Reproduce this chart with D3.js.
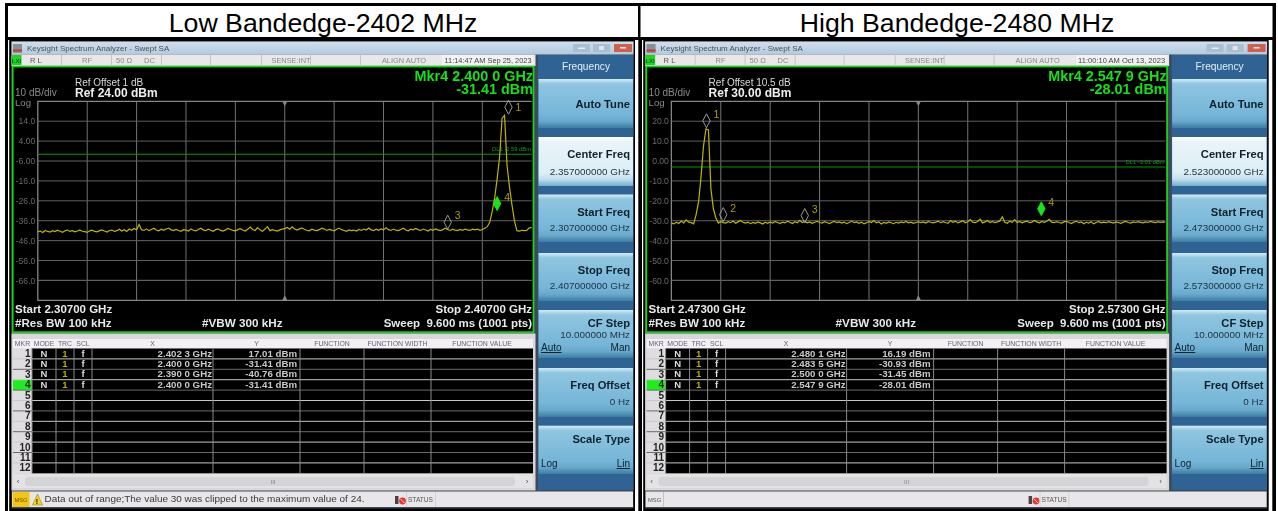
<!DOCTYPE html>
<html>
<head>
<meta charset="utf-8">
<title>Bandedge</title>
<script src="https://cdn.jsdelivr.net/npm/d3@7"></script>
<style>
	html, body { margin: 0; padding: 0; background: #fff; overflow: hidden; }
	svg { display: block; }
	text { font-family: 'Liberation Sans', Arial, sans-serif; }
</style>
</head>
<body>
<script>
// Trace waarden, stap 0.5 MHz (201 punten per sweep)
const lowTrace = [
	-41.6, -41.2, -41.9, -40.9, -41.4, -41.7, -41.0, -41.5, -40.8, -41.3, -41.8, -41.1, -40.7, -41.4, -41.0, -41.6, -41.2, -40.6, -41.3, -41.5,
	-41.9, -41.1, -40.8, -41.4, -41.6, -41.0, -40.6, -41.2, -41.7, -40.9, -40.7, -41.3, -41.0, -40.3, -41.2, -40.5, -41.4, -40.2, -40.8, -39.9,
	-40.6, -37.9, -40.5, -40.9, -40.1, -41.0, -40.4, -39.8, -40.7, -41.1, -40.3, -40.8, -40.2, -39.7, -40.6, -41.0, -40.4, -40.9, -41.3, -40.5,
	-40.7, -41.2, -40.1, -40.8, -41.1, -40.4, -39.8, -40.6, -41.0, -40.3, -40.8, -41.3, -40.5, -40.1, -40.9, -41.2, -40.6, -39.9, -40.4, -40.9,
	-41.1, -40.5, -40.0, -40.7, -41.2, -40.3, -39.2, -40.4, -40.9, -39.5, -40.6, -41.3, -40.2, -39.0, -41.0, -40.5, -40.9, -41.2, -40.6, -40.2,
	-40.0, -39.4, -40.3, -39.1, -40.2, -40.7, -40.1, -39.6, -40.4, -40.8, -41.1, -40.3, -40.7, -41.0, -40.5, -39.8, -40.2, -40.9, -40.4, -40.7,
	-41.1, -40.3, -39.7, -40.5, -40.9, -41.3, -40.6, -41.0, -40.7, -41.2, -40.4, -40.9, -40.2, -40.7, -39.7, -40.6, -41.0, -40.3, -40.8, -40.1,
	-40.6, -39.6, -40.5, -40.9, -40.2, -40.76, -41.0, -40.4, -39.8, -40.7, -41.1, -40.3, -40.6, -39.9, -40.5, -40.9, -40.2, -40.7, -41.2, -40.4,
	-40.8, -40.1, -40.6, -41.0, -40.5, -39.8, -40.4, -40.9, -40.3, -40.7, -41.0, -40.4, -40.8, -40.2, -40.6, -40.9, -40.3, -40.6, -40.2, -40.8,
	-40.4, -39.8, -39.0, -36.8, -31.41, -24.5, -15.0, -4.0, 15.5, 17.01, -8.0, -19.0, -28.0, -36.0, -41.0, -41.2, -40.8, -41.0, -40.9, -39.6, -39.5
]
const highTrace = [
	-31.2, -31.6, -30.8, -31.4, -30.2, -31.1, -29.6, -30.7, -31.0, -31.6, -27.0, -20.5, -8.0, 7.5, 16.19, 15.6, -14.0, -24.0, -28.5, -31.2,
	-30.4, -30.93, -31.2, -30.5, -31.0, -30.2, -31.3, -30.6, -29.9, -30.8, -31.2, -30.7, -31.5, -30.9, -31.3, -30.6, -31.1, -31.7, -30.8, -31.3,
	-30.6, -31.2, -30.4, -30.9, -31.4, -30.7, -31.1, -30.3, -30.8, -31.45, -30.5, -31.0, -29.8, -30.9, -30.4, -31.1, -30.6, -31.3, -30.8, -30.3,
	-30.9, -31.2, -30.5, -30.9, -31.4, -30.8, -30.4, -31.0, -30.6, -31.2, -30.7, -31.5, -30.9, -30.2, -31.0, -30.6, -31.3, -30.8, -31.6, -31.0,
	-30.4, -30.9, -29.9, -31.1, -30.5, -31.7, -30.9, -31.3, -30.6, -31.0, -31.5, -30.8, -31.2, -30.6, -31.0, -30.4, -31.1, -30.7, -31.3, -30.9,
	-30.5, -31.0, -30.6, -31.2, -30.4, -30.8, -31.1, -30.7, -30.2, -31.0, -30.5, -30.9, -31.3, -29.9, -30.8, -30.3, -31.1, -30.6, -30.0, -31.0,
	-30.5, -29.4, -30.7, -31.0, -30.4, -29.2, -31.1, -30.6, -30.0, -30.9, -30.4, -31.0, -30.6, -30.1, -28.01, -30.8, -31.3, -30.2, -30.8, -29.5,
	-30.9, -30.4, -31.1, -30.6, -30.2, -31.0, -30.7, -29.9, -30.6, -31.1, -30.4, -30.8, -30.3, -29.3, -30.7, -31.0, -30.5, -30.9, -31.2, -30.6,
	-30.3, -30.9, -31.4, -30.7, -30.3, -31.0, -30.6, -31.5, -30.8, -31.2, -30.5, -31.6, -30.9, -30.4, -31.1, -30.7, -31.0, -30.5, -30.8, -31.2,
	-30.6, -30.9, -31.3, -30.7, -30.4, -30.9, -31.2, -30.6, -30.9, -30.5, -30.8, -31.1, -30.6, -30.9, -30.4, -30.7, -31.0, -30.5, -30.8, -30.6, -30.7
]

const lowTicks = [14, 4, -6, -16, -26, -36, -46, -56, -66]
const lowTickLabels = ['14.0', '4.00', '-6.00', '-16.0', '-26.0', '-36.0', '-46.0', '-56.0', '-66.0']
const highTicks = [20, 10, 0, -10, -20, -30, -40, -50, -60]
const highTickLabels = ['20.0', '10.0', '0.00', '-10.0', '-20.0', '-30.0', '-40.0', '-50.0', '-60.0']

// Markers: nummer, frequentie in MHz, waarde in dBm
const lowMarkerNr = [1, 2, 3, 4]
const lowMarkerFreq = [2402.3, 2400.0, 2390.0, 2400.0]
const lowMarkerVal = [17.01, -31.41, -40.76, -31.41]
const highMarkerNr = [1, 2, 3, 4]
const highMarkerFreq = [2480.1, 2483.5, 2500.0, 2547.9]
const highMarkerVal = [16.19, -30.93, -31.45, -28.01]

const lowMarkerX = ['2.402 3 GHz', '2.400 0 GHz', '2.390 0 GHz', '2.400 0 GHz']
const lowMarkerY = ['17.01 dBm', '-31.41 dBm', '-40.76 dBm', '-31.41 dBm']
const highMarkerX = ['2.480 1 GHz', '2.483 5 GHz', '2.500 0 GHz', '2.547 9 GHz']
const highMarkerY = ['16.19 dBm', '-30.93 dBm', '-31.45 dBm', '-28.01 dBm']

const tableHeaders = ['MKR', 'MODE', 'TRC', 'SCL', 'X', 'Y', 'FUNCTION', 'FUNCTION WIDTH', 'FUNCTION VALUE']
const softKeyLabels = ['Auto Tune', 'Center Freq', 'Start Freq', 'Stop Freq', 'CF Step', 'Freq Offset', 'Scale Type']

const panels = [
	{
		dx: 0, title: 'Low Bandedge-2402 MHz', titleX: 323, start: 2307, stop: 2407, ref: 24,
		trace: lowTrace, ticks: lowTicks, tickLabels: lowTickLabels,
		nr: lowMarkerNr, freq: lowMarkerFreq, val: lowMarkerVal, mx: lowMarkerX, my: lowMarkerY,
		dl: -2.59, dlText: 'DL1 -2.59 dBm', offset: 'Ref Offset 1 dB', refText: 'Ref 24.00 dBm',
		mkr: 'Mkr4 2.400 0 GHz', mkrVal: '-31.41 dBm', time: '11:14:47 AM Sep 25, 2023',
		startText: 'Start 2.30700 GHz', stopText: 'Stop 2.40700 GHz',
		center: '2.357000000 GHz', startKey: '2.307000000 GHz', stopKey: '2.407000000 GHz',
		msg: 'Data out of range;The value 30 was clipped to the maximum value of 24.'
	},
	{
		dx: 633.6, title: 'High Bandedge-2480 MHz', titleX: 957, start: 2473, stop: 2573, ref: 30,
		trace: highTrace, ticks: highTicks, tickLabels: highTickLabels,
		nr: highMarkerNr, freq: highMarkerFreq, val: highMarkerVal, mx: highMarkerX, my: highMarkerY,
		dl: -3.01, dlText: 'DL1 -3.01 dBm', offset: 'Ref Offset 10.5 dB', refText: 'Ref 30.00 dBm',
		mkr: 'Mkr4 2.547 9 GHz', mkrVal: '-28.01 dBm', time: '11:00:10 AM Oct 13, 2023',
		startText: 'Start 2.47300 GHz', stopText: 'Stop 2.57300 GHz',
		center: '2.523000000 GHz', startKey: '2.473000000 GHz', stopKey: '2.573000000 GHz',
		msg: ''
	}
]

const svg = d3.select('body').append('svg').attr('width', 1278).attr('height', 511)
const defs = svg.append('defs')

function gradient(id, stops) {
	const g = defs.append('linearGradient').attr('id', id).attr('x1', 0).attr('x2', 0).attr('y1', 0).attr('y2', 1)
	stops.forEach(s => g.append('stop').attr('offset', s[0]).attr('stop-color', s[1]))
}
gradient('keyNormal', [[0, '#d5ecf5'], [0.1, '#8fc6e0'], [0.72, '#75b5d8'], [0.86, '#6aa9cc'], [1, '#3a7ca3']])
gradient('keyActive', [[0, '#ffffff'], [0.1, '#e9f4f9'], [0.72, '#dceef6'], [0.86, '#c4e0ee'], [1, '#6eaecf']])
gradient('titleBar', [[0, '#cfe0ee'], [1, '#b2cade']])
defs.append('filter').attr('id', 'soft').attr('x', 0).attr('y', 0).attr('width', 1).attr('height', 1)
	.append('feGaussianBlur').attr('stdDeviation', 0.45)

// Zwarte tabelranden en witte titelcellen
svg.append('rect').attr('x', 5).attr('y', 3).attr('width', 1271).attr('height', 508).attr('fill', '#000')
svg.append('rect').attr('x', 8).attr('y', 6).attr('width', 630).attr('height', 31).attr('fill', '#fff')
svg.append('rect').attr('x', 640.5).attr('y', 6).attr('width', 632).attr('height', 31).attr('fill', '#fff')
svg.append('rect').attr('x', 8).attr('y', 40).attr('width', 1.2).attr('height', 471).attr('fill', '#fff')
svg.append('rect').attr('x', 635).attr('y', 40).attr('width', 3.3).attr('height', 471).attr('fill', '#fff')
svg.append('rect').attr('x', 642).attr('y', 40).attr('width', 1.2).attr('height', 471).attr('fill', '#fff')
svg.append('rect').attr('x', 1268.7).attr('y', 40).attr('width', 3.6).attr('height', 471).attr('fill', '#fff')

function label(g, x, y, text, size, color, weight, anchor) {
	return g.append('text').attr('x', x).attr('y', y).text(text)
		.attr('font-size', size).attr('fill', color)
		.attr('font-weight', weight || 'normal').attr('text-anchor', anchor || 'start')
}

function rect(g, x, y, w, h, fill) {
	return g.append('rect').attr('x', x).attr('y', y).attr('width', w).attr('height', h).attr('fill', fill)
}

panels.forEach(drawPanel)

function drawPanel(p) {
	label(svg, p.titleX, 31.5, p.title, 26.7, '#000', 'normal', 'middle')

	const g = svg.append('g').attr('transform', `translate(${p.dx},0)`).attr('filter', 'url(#soft)')

	// Venster
	rect(g, 11.5, 41.5, 622, 467, '#3d4a58')
	rect(g, 11.5, 41.5, 622, 13, 'url(#titleBar)')
	rect(g, 13, 44, 9, 9, '#8a8f96')
	rect(g, 13, 49.5, 9, 2, '#c8343c')
	label(g, 27, 50.5, 'Keysight Spectrum Analyzer - Swept SA', 8, '#4a4f55')
	rect(g, 573, 44, 17, 8, '#a9c0d3')
	rect(g, 593, 44, 17, 8, '#a9c0d3')
	rect(g, 614, 44, 18, 8, '#d0604e')
	rect(g, 578, 47.5, 7, 1.5, '#eee')
	rect(g, 620, 47, 6, 1.5, '#eee')
	rect(g, 599, 46, 5, 4, '#e4e4e4')

	// Statusregel
	rect(g, 11.5, 54.5, 524, 11.5, '#e9e7ea')
	rect(g, 11.5, 55, 10, 10, '#1fd51f')
	label(g, 16.5, 63, 'LXI', 6, '#063', 'bold', 'middle')
	;[61, 111, 161, 210, 261, 310, 360, 442].forEach(x => rect(g, x, 55, 1, 10, '#c6c4c8'))
	rect(g, 442, 55, 91, 10, '#f3f1f4')
	label(g, 30, 63, 'R L', 7.6, '#555')
	label(g, 87, 63, 'RF', 7.6, '#888', 'normal', 'middle')
	label(g, 116, 63, '50 Ω', 7.6, '#888')
	label(g, 144, 63, 'DC', 7.6, '#888')
	label(g, 291, 63, 'SENSE:INT', 7.4, '#888', 'normal', 'middle')
	label(g, 404, 63, 'ALIGN AUTO', 7.4, '#888', 'normal', 'middle')
	label(g, 488, 63, p.time, 7.6, '#444', 'normal', 'middle').attr('textLength', 87).attr('lengthAdjust', 'spacingAndGlyphs')

	drawPlot(g, p)
	drawTable(g, p)
	drawSoftKeys(g, p)
	drawBottom(g, p)
}

function drawPlot(g, p) {
	rect(g, 12.7, 66.5, 520.8, 265.7, '#000').attr('stroke', '#19d419').attr('stroke-width', 1.8)

	const x = d3.scaleLinear().domain([p.start, p.stop]).range([37.8, 531.7])
	const y = d3.scaleLinear().domain([p.ref, p.ref - 100]).range([101.3, 300.3])

	// Grid
	const grid = d3.range(1, 10).map(i => p.start + i * 10)
	g.append('g').selectAll('line').data(grid).join('line')
		.attr('x1', d => x(d)).attr('x2', d => x(d)).attr('y1', y.range()[0]).attr('y2', y.range()[1])
		.attr('stroke', '#747474').attr('stroke-width', 1)
	g.append('g').selectAll('line').data(p.ticks.concat([p.ref - 90])).join('line')
		.attr('x1', x.range()[0]).attr('x2', x.range()[1]).attr('y1', d => y(d)).attr('y2', d => y(d))
		.attr('stroke', '#606060').attr('stroke-width', 1)
	g.append('path')
		.attr('d', `M${x.range()[1]},${y.range()[0]}H${x.range()[0]}V${y.range()[1]}H${x.range()[1]}`)
		.attr('fill', 'none').attr('stroke', '#858585').attr('stroke-width', 1.3)

	// Y as met de labels van het instrument
	const yaxis = d3.axisLeft(y).tickValues(p.ticks).tickSize(0).tickPadding(2.5)
		.tickFormat((d, i) => p.tickLabels[i])
	const g_yaxis = g.append('g').attr('transform', `translate(${x.range()[0]},0)`).call(yaxis)
	g_yaxis.select('.domain').remove()
	g_yaxis.selectAll('text').attr('fill', '#6a6a6a').attr('font-size', 8.6)

	// Driehoekjes op de middenfrequentie
	const mid = x((p.start + p.stop) / 2)
	g.append('path').attr('d', `M${mid - 2.5},${y.range()[0]}h5l-2.5,5z`).attr('fill', '#8a8a8a')
	g.append('path').attr('d', `M${mid - 2.5},${y.range()[1]}h5l-2.5,-5z`).attr('fill', '#8a8a8a')

	// Display line
	g.append('line').attr('x1', x.range()[0]).attr('x2', x.range()[1]).attr('y1', y(p.dl)).attr('y2', y(p.dl))
		.attr('stroke', '#0a9a0a').attr('stroke-width', 1)
	label(g, 531, y(p.dl) - 3, p.dlText, 5.8, '#119911', 'normal', 'end')

	// Trace
	const line = d3.line().x((d, i) => x(p.start + i * 0.5)).y(d => y(d))
	g.append('path').datum(p.trace).attr('d', line)
		.attr('fill', 'none').attr('stroke', '#bcb600').attr('stroke-width', 1.2)

	// Markers, nummer 4 is de actieve. Een marker op dezelfde plek valt eronder weg
	const active = p.nr.length - 1
	p.nr.forEach((nr, i) => {
		if (i !== active && p.freq[i] === p.freq[active]) return
		const mx = x(p.freq[i])
		const my = y(p.val[i]) - 8
		g.append('path').attr('d', `M${mx},${my - 7}L${mx + 3.7},${my}L${mx},${my + 7}L${mx - 3.7},${my}Z`)
			.attr('fill', i === active ? '#19e619' : 'none')
			.attr('stroke', i === active ? '#19e619' : '#a8a8a8').attr('stroke-width', 0.9)
		label(g, mx + 7, Math.max(my - 3, 111), nr, 10.5, '#a89f00')
	})

	// Teksten in het scherm
	label(g, 75, 85.5, p.offset, 10, '#d8d8d8')
	label(g, 75, 97, p.refText, 12, '#eee', 'bold')
	label(g, 15, 95.5, '10 dB/div', 10, '#8a8a8a')
	label(g, 15, 106, 'Log', 9.6, '#8a8a8a')
	label(g, 533, 80.5, p.mkr, 14.4, '#14e014', 'bold', 'end')
	label(g, 533, 94, p.mkrVal, 14.4, '#14e014', 'bold', 'end')
	label(g, 15, 313, p.startText, 11.5, '#e8e8e8', 'bold')
	label(g, 15, 326.5, '#Res BW 100 kHz', 11.6, '#e8e8e8', 'bold')
	label(g, 202, 326.5, '#VBW 300 kHz', 11.7, '#e8e8e8', 'bold')
	label(g, 532, 313, p.stopText, 11.5, '#e8e8e8', 'bold', 'end')
	label(g, 532, 326.5, 'Sweep  9.600 ms (1001 pts)', 11.5, '#e8e8e8', 'bold', 'end').attr('xml:space', 'preserve')
}

function drawTable(g, p) {
	const cols = [13, 32, 56, 74, 92, 213, 300, 364, 431, 533]
	const rowH = 10.4
	const top = 348.5
	rect(g, 11.5, 333.5, 524, 157, '#d9d7d9')
	rect(g, 13, 339, 520, 9.5, '#f2f0f2')
	tableHeaders.forEach((h, i) => {
		label(g, (cols[i] + cols[i + 1]) / 2, 346.3, h, 6.9, '#6a5f75', 'normal', 'middle')
	})
	rect(g, 32, top, 501, rowH * 12, '#000')
	rect(g, 13, top, 19, rowH * 12, '#dfdddf')
	rect(g, 13, top + rowH * 3, 19, rowH, '#1ef01e')
	// rijen en kolommen
	d3.range(1, 12).forEach(i => rect(g, 13, top + rowH * i - 0.5, 520, 1, i % 2 ? '#c9c9c9' : '#6a6a6a'))
	cols.slice(1, 9).forEach(x => rect(g, x - 0.5, top, 1, rowH * 12, '#8a8a8a'))
	d3.range(12).forEach(i => {
		const base = top + rowH * i + 8.5
		label(g, 30.5, base, i + 1, 10, '#222', 'bold', 'end')
		if (i < 4) {
			label(g, 44, base - 0.5, 'N', 9.5, '#ddd', 'bold', 'middle')
			label(g, 65, base - 0.5, '1', 9.5, '#b5ad00', 'bold', 'middle')
			label(g, 83, base - 0.5, 'f', 9.5, '#ddd', 'bold', 'middle')
			label(g, 212, base - 0.5, p.mx[i], 9.7, '#c8c8c8', 'bold', 'end')
			label(g, 297, base - 0.5, p.my[i], 9.7, '#c8c8c8', 'bold', 'end')
		}
	})
	// scrollbalk
	rect(g, 13, 474, 520, 14, '#e4e2e4')
	rect(g, 25, 477, 490, 9, '#d2d4d6').attr('rx', 3)
	label(g, 273, 484, 'III', 6, '#888', 'normal', 'middle')
	label(g, 18, 484, '‹', 8, '#555', 'normal', 'middle')
	label(g, 527, 484, '›', 8, '#555', 'normal', 'middle')
}

function drawSoftKeys(g, p) {
	const keyTop = [79, 137, 194.5, 253, 310, 368, 425.7]
	const keyBottom = [128, 186, 242, 301, 358, 417, 474]
	const keyBase = [108, 158, 216, 274, 327, 389, 443]
	const subText = [null, p.center, p.startKey, p.stopKey, '10.000000 MHz', '0 Hz', null]
	const subBase = [null, 175, 231, 289, 338, 405, null]

	rect(g, 538, 55, 95.5, 435, '#2f6394')
	label(g, 586, 70, 'Frequency', 10.2, '#e4eef5', 'normal', 'middle')
	softKeyLabels.forEach((k, i) => {
		rect(g, 538.5, keyTop[i], 94.5, keyBottom[i] - keyTop[i], i === 1 ? 'url(#keyActive)' : 'url(#keyNormal)')
		label(g, 630, keyBase[i], k, 11.2, '#10202b', 'bold', 'end')
		if (subText[i]) label(g, 630, subBase[i], subText[i], 9.9, '#25343f', 'normal', 'end')
	})
	label(g, 541, 351, 'Auto', 10, '#10202b').attr('text-decoration', 'underline')
	label(g, 630, 351, 'Man', 10, '#10202b', 'normal', 'end')
	label(g, 541, 467, 'Log', 10, '#10202b')
	label(g, 630, 467, 'Lin', 10, '#10202b', 'normal', 'end').attr('text-decoration', 'underline')
}

function drawBottom(g, p) {
	rect(g, 12, 491.5, 621, 15.5, '#e8e6e8')
	if (p.msg) {
		rect(g, 12.5, 492, 17, 15, '#f5c518')
		label(g, 21, 502, 'MSG', 5.8, '#6a5200', 'normal', 'middle')
		g.append('path').attr('d', 'M37.5,494l5,11h-10z').attr('fill', '#f7d21e').attr('stroke', '#8a6d00').attr('stroke-width', 0.5)
		label(g, 36.9, 504, '!', 7, '#000', 'bold', 'middle')
		label(g, 44.5, 502, p.msg, 9.4, '#3a3a3a').attr('textLength', 320).attr('lengthAdjust', 'spacingAndGlyphs')
	} else {
		label(g, 21, 502, 'MSG', 5.8, '#555', 'normal', 'middle')
		rect(g, 29.5, 492, 0.8, 15, '#bbb')
	}
	// status icoon
	rect(g, 395, 496, 3.5, 8, '#444')
	g.append('circle').attr('cx', 402.5).attr('cy', 501).attr('r', 3.4).attr('fill', '#e8352e')
	g.append('line').attr('x1', 400.4).attr('x2', 404.6).attr('y1', 498.9).attr('y2', 503.1).attr('stroke', '#fff').attr('stroke-width', 0.8)
	rect(g, 406, 492, 0.8, 15, '#ccc')
	rect(g, 435, 492, 0.8, 15, '#ccc')
	label(g, 420.5, 502, 'STATUS', 6.6, '#555', 'normal', 'middle')
}
</script>
</body>
</html>
